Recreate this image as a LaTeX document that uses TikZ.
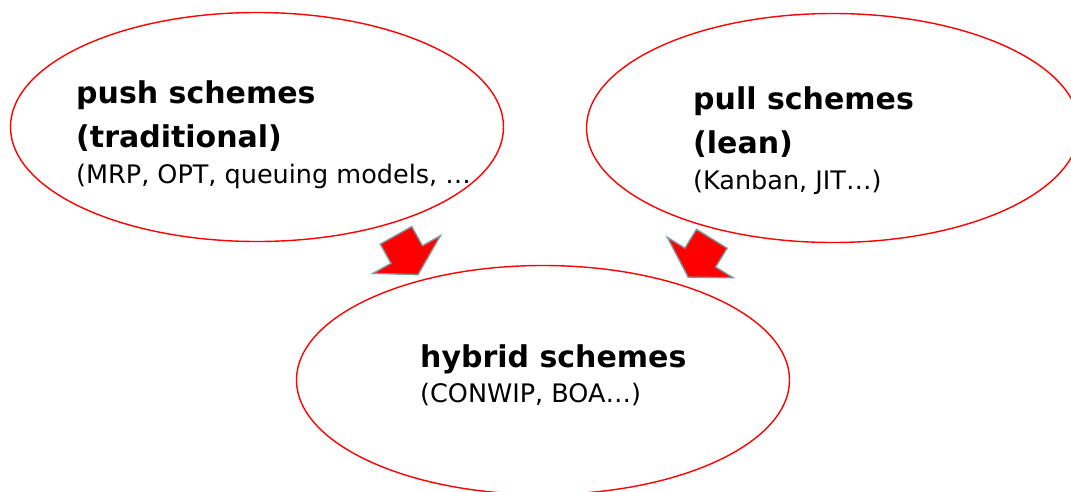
\documentclass[tikz,border=0pt]{standalone}
\usepackage{fontspec}
\setmainfont{DejaVu Sans}
\usetikzlibrary{shapes.geometric}
\definecolor{arrowgray}{RGB}{125,150,158}

\begin{document}
\begin{tikzpicture}[x=1pt, y=-1pt,
  scheme/.style={ellipse, draw=red, line width=1.4pt, minimum width=493pt, minimum height=229pt, inner sep=0pt},
  title/.style={anchor=base west, inner sep=0pt, font=\bfseries\fontsize{30}{36}\selectfont},
  sub/.style={anchor=base west, inner sep=0pt, font=\fontsize{25.5}{30}\selectfont},
  flow/.style={fill=red, draw=arrowgray, line width=1.4pt, line join=miter}]
  \useasboundingbox (0,0) rectangle (1071,491);
  \clip (0,0) rectangle (1071,491);

  \node[scheme] (push) at (257,127) {};
  \node[scheme] (pull) at (833,128) {};
  \node[scheme] (hybrid) at (543,380) {};

  \node[title] (push1) at (76,103) {push schemes};
  \node[title] (push2) at (76,147) {(traditional)};
  \node[sub] (push3) at (76,183) {(MRP, OPT, queuing models, …};

  \node[title] (pull1) at (693,109) {pull schemes};
  \node[title] (pull2) at (693,153) {(lean)};
  \node[sub] (pull3) at (693,189) {(Kanban, JIT…)};

  \node[title] (hybrid1) at (420,367) {hybrid schemes};
  \node[sub] (hybrid2) at (420,402) {(CONWIP, BOA…)};

  \coordinate (push2hybrid) at (407,255);
  \coordinate (pull2hybrid) at (700,258);
  \draw[flow, shift={(push2hybrid)}, rotate=-60.8] (-22.5,-18) -- (-0.5,-18) -- (-0.5,-38.5) -- (22.5,0) -- (-0.5,38.5) -- (-0.5,18) -- (-22.5,18) -- cycle;
  \draw[flow, shift={(pull2hybrid)}, rotate=-121.6] (-22.5,-18) -- (-0.5,-18) -- (-0.5,-38.5) -- (22.5,0) -- (-0.5,38.5) -- (-0.5,18) -- (-22.5,18) -- cycle;
\end{tikzpicture}
\end{document}
